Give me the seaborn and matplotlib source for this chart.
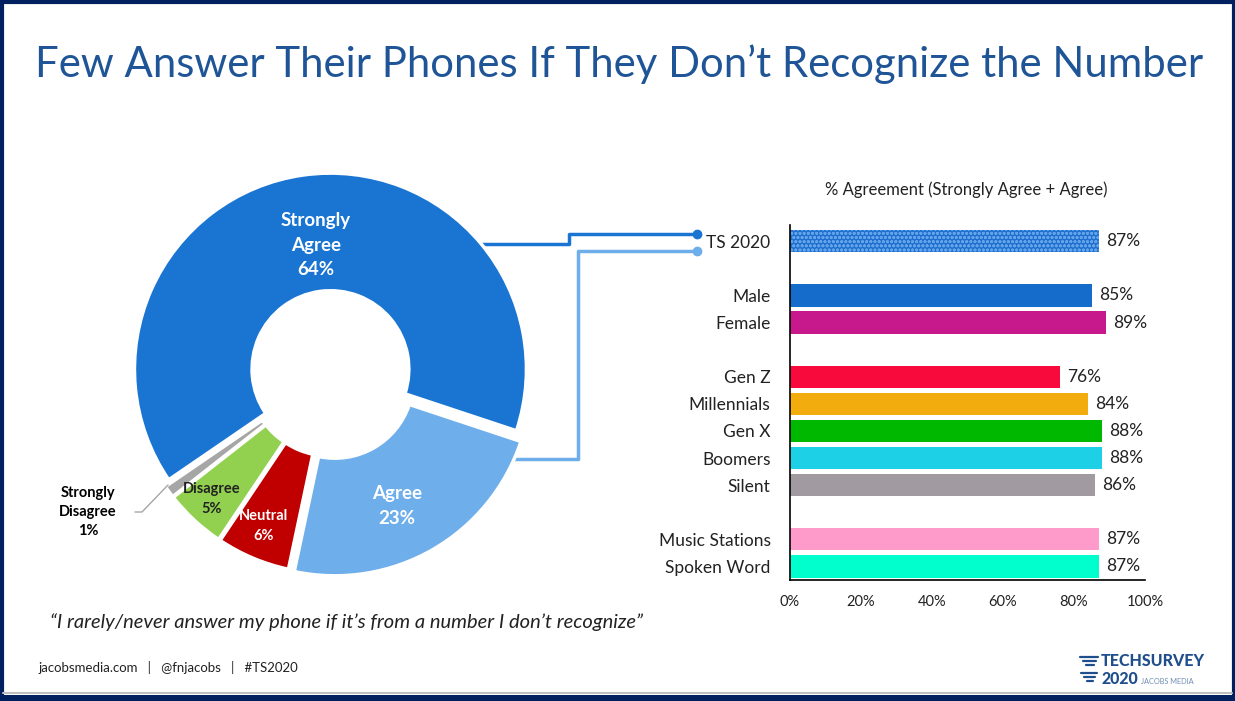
import matplotlib
matplotlib.use("Agg")
import matplotlib.pyplot as plt
import seaborn as sns
import pandas as pd
from matplotlib.patches import Rectangle

# ---------------- data ----------------
pie_labels = ["Strongly Agree", "Agree", "Neutral", "Disagree", "Strongly Disagree"]
pie_values = [64, 23, 6, 5, 1]
pie_colors = ["#1A75D2", "#6DAEEB", "#C00000", "#92D050", "#A6A6A6"]

bar_labels = ["TS 2020", "Male", "Female", "Gen Z", "Millennials", "Gen X",
              "Boomers", "Silent", "Music Stations", "Spoken Word"]
bar_values = [87, 85, 89, 76, 84, 88, 88, 86, 87, 87]
bar_colors = ["#1F6FCF", "#166CCB", "#C8198C", "#F80A3C", "#F2AC0E", "#00B800",
              "#1ED0E5", "#A19AA1", "#FF9BCB", "#00FFCC"]
bar_order = ["TS 2020", " ", "Male", "Female", "  ", "Gen Z", "Millennials", "Gen X",
             "Boomers", "Silent", "   ", "Music Stations", "Spoken Word"]
x_ticks = [0, 20, 40, 60, 80, 100]

sns.set_theme(style="white")
plt.rcParams['font.family'] = ['Lato', 'DejaVu Sans']
plt.rcParams['hatch.linewidth'] = 0.9

W, H = 1235, 701
fig = plt.figure(figsize=(W / 100, H / 100), dpi=100)
fig.patch.set_facecolor("white")

def pixel_axes(z):
    a = fig.add_axes([0, 0, 1, 1])
    a.set_xlim(0, W)
    a.set_ylim(H, 0)
    a.axis("off")
    a.set_zorder(z)
    a.patch.set_alpha(0)
    return a

bg = pixel_axes(0)
fg = pixel_axes(5)

navy = "#002060"
# frame
bg.add_patch(Rectangle((1.5, 1.5), W - 3, H - 3, fill=False, edgecolor=navy, lw=3))
bg.plot([3, W - 3], [692.5, 692.5], color="#BFBFBF", lw=1.5)
bg.add_patch(Rectangle((0, 695), W, 6, color=navy, lw=0))

# title
bg.text(619, 64, "Few Answer Their Phones If They Don\u2019t Recognize the Number",
        ha="center", va="center", fontsize=30.2, color="#1F5597")

# ---------------- donut ----------------
cx, cy, R = 331, 373, 196
lim = 1.25
pax = fig.add_axes([(cx - lim * R) / W, (H - cy - lim * R) / H, 2 * lim * R / W, 2 * lim * R / H])
pax.set_zorder(1)
pax.pie(pie_values, colors=pie_colors, startangle=90 - 239 * 99 / 100 + 1, counterclock=False,
        explode=[0.02, 0.04, 0.025, 0.025, 0.025],
        wedgeprops=dict(width=0.6, edgecolor="white", linewidth=2.5))
pax.set_xlim(-lim, lim)
pax.set_ylim(-lim, lim)
pax.set_aspect("equal")
pax.axis("off")

fg.text(316, 245, "Strongly\nAgree\n64%", ha="center", va="center", color="white",
        fontsize=13.5, fontweight="bold", linespacing=1.55)
fg.text(397, 506, "Agree\n23%", ha="center", va="center", color="white",
        fontsize=13.5, fontweight="bold", linespacing=1.5)
fg.text(264, 526, "Neutral\n6%", ha="center", va="center", color="white",
        fontsize=10.5, fontweight="bold", linespacing=1.6)
fg.text(212, 499, "Disagree\n5%", ha="center", va="center", color="#222222",
        fontsize=10.5, fontweight="bold", linespacing=1.5)
fg.text(88, 512, "Strongly\nDisagree\n1%", ha="center", va="center", color="black",
        fontsize=10.5, fontweight="bold", linespacing=1.45)
fg.plot([135, 142, 168], [512, 512, 485], color="#A6A6A6", lw=1)

# connectors
dark = "#1A75D2"
light = "#6DAEEB"
bg.plot([470, 569, 569, 697], [244, 244, 233.5, 233.5], color=dark, lw=2.5, zorder=2)
fg.plot([697], [233.5], "o", color=dark, ms=6, zorder=3)
bg.plot([505, 578, 578, 697], [458.5, 458.5, 250.5, 250.5], color=light, lw=2.5, zorder=2)
fg.plot([697], [250.5], "o", color=light, ms=6, zorder=3)

# quote
bg.text(347, 622, "\u201cI rarely/never answer my phone if it\u2019s from a number I don\u2019t recognize\u201d",
        ha="center", va="center", fontsize=14.5, style="italic", color="#222222")

# footer
bg.text(38, 668, "jacobsmedia.com   |   @fnjacobs   |   #TS2020", ha="left", va="center",
        fontsize=9.5, color="#222222")

# logo
logo = "#1F4E8C"
for x0, x1, y in [(1080, 1098, 657), (1083, 1096, 661), (1086, 1094, 665),
                  (1081, 1097, 673), (1084, 1095, 677), (1087, 1093, 681)]:
    bg.plot([x0, x1], [y, y], color=logo, lw=1.6)
bg.text(1101, 661, "TECHSURVEY", ha="left", va="center", fontsize=11.5, fontweight="black", color=logo)
bg.text(1101, 679, "2020", ha="left", va="center", fontsize=11.5, fontweight="black", color=logo)
bg.text(1141, 681.5, "JACOBS MEDIA", ha="left", va="center", fontsize=5.3, color="#6F8DB5")

# ---------------- bars ----------------
bx0, bx1, by0, by1 = 790, 1145, 225, 580
bax = fig.add_axes([bx0 / W, (H - by1) / H, (bx1 - bx0) / W, (by1 - by0) / H])
bax.set_zorder(1)
df = pd.DataFrame({"label": bar_labels, "value": bar_values})
sns.barplot(data=df, x="value", y="label", hue="label", order=bar_order,
            hue_order=bar_labels, palette=bar_colors, legend=False, ax=bax,
            width=0.82, edgecolor="none", linewidth=0, saturation=1)
for p in bax.patches:
    yc = p.get_y() + p.get_height() / 2
    if abs(yc) < 0.3 and p.get_width() > 0:
        p.set_hatch("oooo")
        p.set_edgecolor("#63A3EA")
        p.set_linewidth(0)
bax.set_xlim(0, 100)
bax.set_ylim(12.5, -0.6)
bax.set_xticks(x_ticks)
bax.set_xticklabels([f"{t}%" for t in x_ticks], fontsize=10.5, color="#222222")
bax.tick_params(axis="x", length=0, pad=11)
bax.tick_params(axis="y", length=0, pad=14, labelsize=12.5, labelcolor="#222222")
bax.set_xlabel("")
bax.set_ylabel("")
bax.set_facecolor("none")
for s in ["top", "right"]:
    bax.spines[s].set_visible(False)
for s in ["left", "bottom"]:
    bax.spines[s].set_color("black")
    bax.spines[s].set_linewidth(1.2)
for i, lab in enumerate(bar_order):
    if lab in bar_labels:
        v = bar_values[bar_labels.index(lab)]
        bax.text(v + 2, i, f"{v}%", ha="left", va="center", fontsize=12.5, color="#222222")

bg.text(966, 190, "% Agreement (Strongly Agree + Agree)", ha="center", va="center",
        fontsize=12, color="#222222")

fig.savefig("out.png", dpi=100, facecolor="white")
